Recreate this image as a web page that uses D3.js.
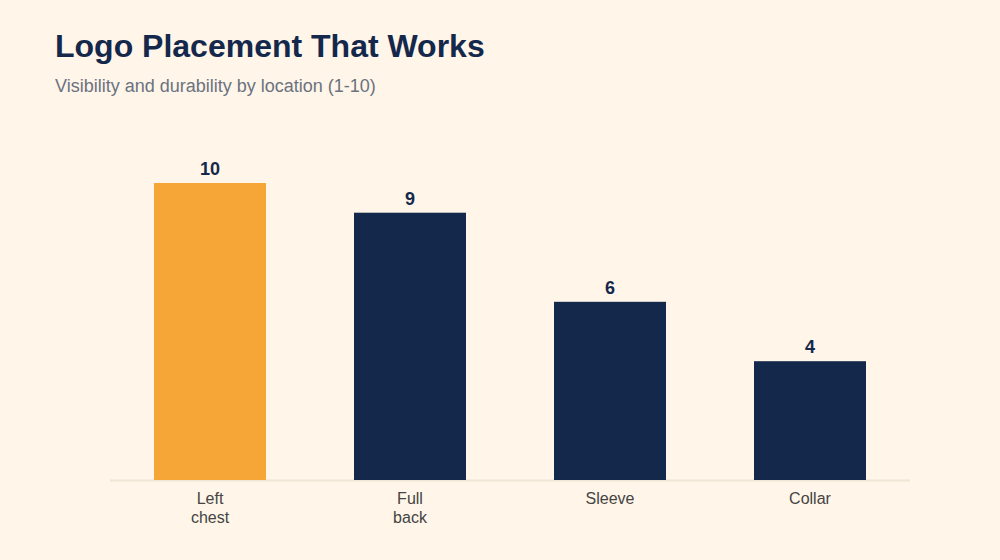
<!DOCTYPE html>
<html>
<head>
<meta charset="utf-8">
<script src="https://cdn.jsdelivr.net/npm/d3@7"></script>
<style>
  body { margin: 0; background: #FFF5E8; }
  svg { display: block; font-family: "Liberation Sans", Arial, Helvetica, sans-serif; }
</style>
</head>
<body>
<svg width="1000" height="560"></svg>
<script>
// data
const categories = [["Left", "chest"], ["Full", "back"], ["Sleeve"], ["Collar"]];
const scores = [10, 9, 6, 4];
const highlight = 0;

const svg = d3.select('svg');
const width = +svg.attr('width');
const height = +svg.attr('height');

svg.append('rect').attr('width', width).attr('height', height).attr('fill', '#FFF5E8');

const margin = {top: 183, right: 90, bottom: 80, left: 110};
const innerwidth = width - margin.left - margin.right;
const innerheight = height - margin.top - margin.bottom;

const g = svg.append('g')
    .attr('transform', "translate(" + margin.left + "," + margin.top + ")");

const keys = categories.map(c => c.join(' '));

const xscale = d3.scaleBand()
    .domain(keys)
    .range([0, innerwidth])
    .paddingInner(0.44)
    .paddingOuter(0.22);

const yscale = d3.scaleLinear()
    .domain([0, 10])
    .range([innerheight, 0]);

// baseline
g.append('line')
    .attr('x1', 0).attr('x2', innerwidth)
    .attr('y1', innerheight + 0.5).attr('y2', innerheight + 0.5)
    .attr('stroke', '#F0E6D6')
    .attr('stroke-width', 2);

g.selectAll('rect.bar')
    .data(scores)
    .enter()
    .append('rect')
    .attr('class', 'bar')
    .attr('x', (d, i) => xscale(keys[i]))
    .attr('y', d => yscale(d))
    .attr('width', xscale.bandwidth())
    .attr('height', d => innerheight - yscale(d))
    .attr('fill', (d, i) => i === highlight ? '#F6A636' : '#14284B');

g.selectAll('text.val')
    .data(scores)
    .enter()
    .append('text')
    .attr('class', 'val')
    .attr('x', (d, i) => xscale(keys[i]) + xscale.bandwidth() / 2)
    .attr('y', d => yscale(d) - 8)
    .attr('text-anchor', 'middle')
    .attr('font-size', 18)
    .attr('font-weight', 'bold')
    .attr('fill', '#14284B')
    .text(d => d);

// x labels (wrapped)
const lab = g.selectAll('text.lab')
    .data(categories)
    .enter()
    .append('text')
    .attr('class', 'lab')
    .attr('x', (d, i) => xscale(keys[i]) + xscale.bandwidth() / 2)
    .attr('y', innerheight + 24)
    .attr('text-anchor', 'middle')
    .attr('font-size', 16)
    .attr('fill', '#444444');

lab.selectAll('tspan')
    .data(d => d)
    .enter()
    .append('tspan')
    .attr('x', function() { return d3.select(this.parentNode).attr('x'); })
    .attr('dy', (d, i) => i === 0 ? 0 : 19)
    .text(d => d);

svg.append('text')
    .attr('x', 55).attr('y', 57)
    .attr('font-size', 32)
    .attr('font-weight', 'bold')
    .attr('fill', '#14284B')
    .text('Logo Placement That Works');

svg.append('text')
    .attr('x', 55).attr('y', 92)
    .attr('font-size', 18)
    .attr('fill', '#6B7280')
    .text('Visibility and durability by location (1-10)');
</script>
</body>
</html>
